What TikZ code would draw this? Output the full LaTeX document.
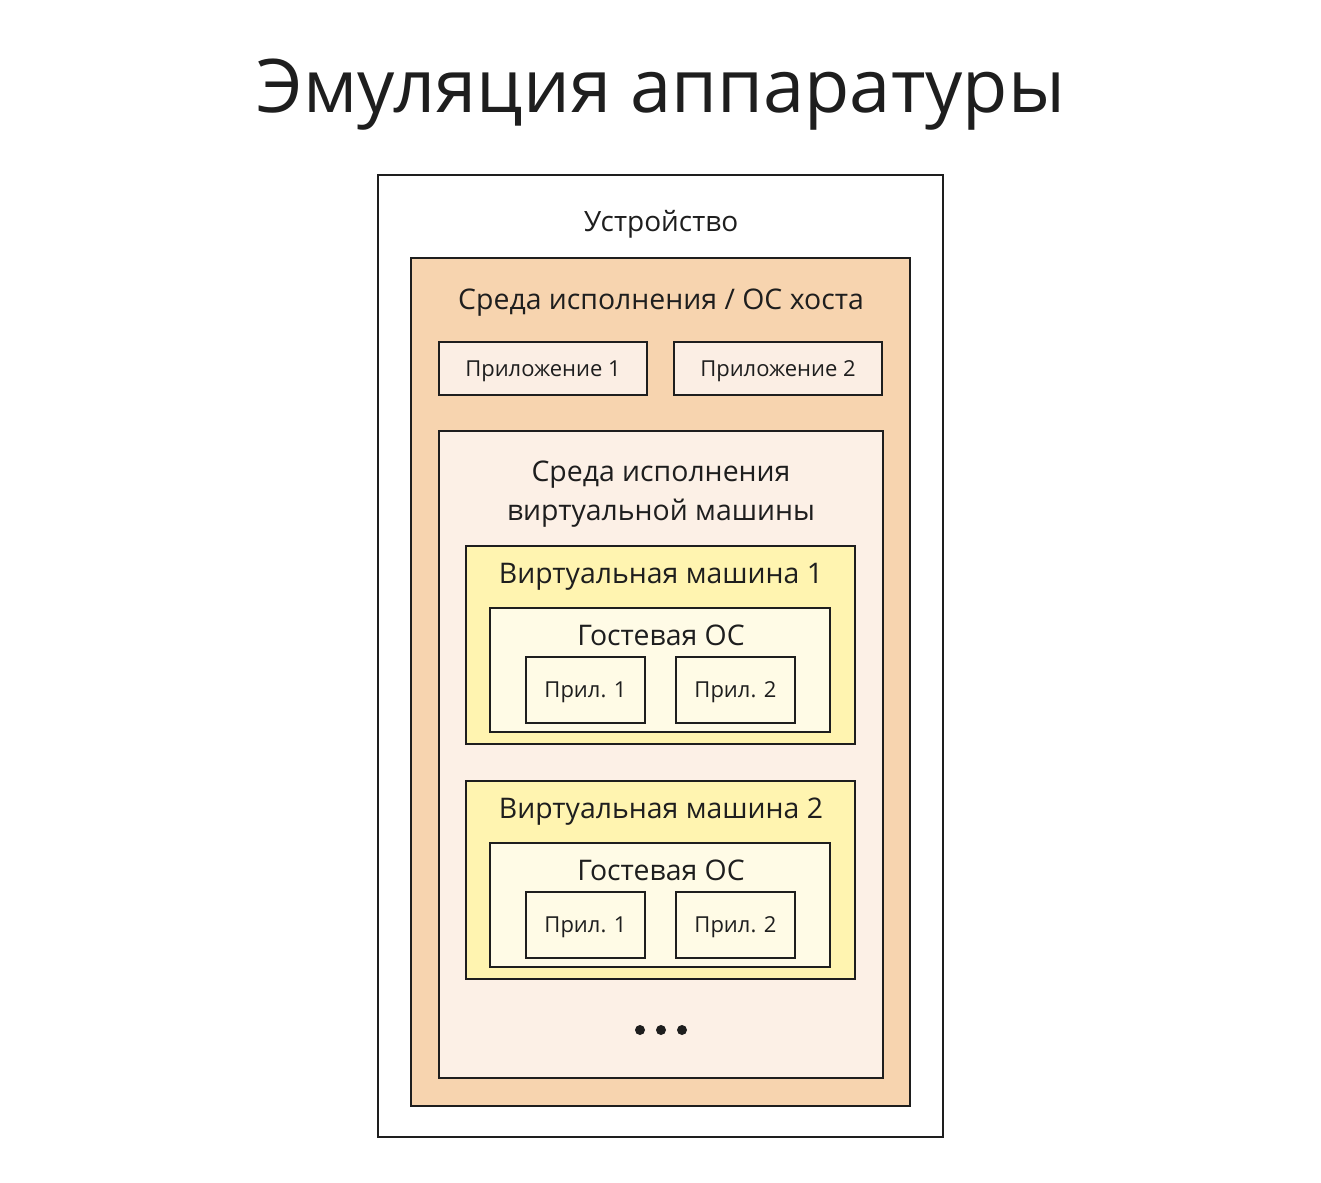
\documentclass[tikz,border=0pt]{standalone}
\usepackage{fontspec}
\setmainfont{Open Sans}
\usetikzlibrary{positioning}
\definecolor{hostfill}{HTML}{F7D4AF}
\definecolor{envfill}{HTML}{FCF0E6}
\definecolor{appfill}{HTML}{FBEEE4}
\definecolor{vmfill}{HTML}{FFF4B0}
\definecolor{guestfill}{HTML}{FFFBE6}
\definecolor{inkc}{HTML}{1E1E1E}
\begin{document}
\begin{tikzpicture}[x=1pt,y=-1pt]
\tikzstyle{every path}=[line width=2.6pt,draw=inkc]
\tikzstyle{frame}=[draw=inkc,line width=2.6pt,inner sep=0pt,text depth=0pt]
\tikzstyle{lbl}=[text=inkc,font=\fontsize{28.4}{36}\selectfont,align=center]
\tikzstyle{small}=[text=inkc,font=\fontsize{22}{26}\selectfont]

\path[draw=none,use as bounding box] (0,0) rectangle (1321,1182);

%% Title
\node[text=inkc,font=\fontsize{74}{88}\selectfont] (title) at (661,95) {Эмуляция аппаратуры};

%% Device and host
\draw[fill=white] (378,175) rectangle (943,1137);
\node[lbl,font=\fontsize{28}{34}\selectfont] (device) at (661,224) {Устройство};
\draw[fill=hostfill] (411,258) rectangle (910,1106);
\node[lbl] (host) at (661,303) {Среда исполнения / ОС хоста};

%% Host applications
\node[frame,fill=appfill,small,minimum width=208pt,minimum height=53pt] (app1) at (543,368.5) {Приложение 1};
\node[frame,fill=appfill,small,minimum width=208pt,minimum height=53pt] (app2) at (778,368.5) {Приложение 2};

%% VM runtime
\draw[fill=envfill] (439,431) rectangle (883,1078);
\node[lbl,font=\fontsize{28.4}{39}\selectfont] (vmenv) at (661,494) {Среда исполнения\\виртуальной машины};

%% Virtual machines
\foreach \i/\y in {1/0,2/235}{
  \begin{scope}[yshift=-\y pt]
  \draw[fill=vmfill] (466,546) rectangle (855,744);
  \node[lbl] (vm\i) at (661,577) {Виртуальная машина \i};
  \draw[fill=guestfill] (490,608) rectangle (830,732);
  \node[lbl] (guest\i) at (661,635) {Гостевая ОС};
  \node[frame,fill=guestfill,small,minimum width=119pt,minimum height=66pt] (vm\i-p1) at (585.5,690) {Прил. 1};
  \node[frame,fill=guestfill,small,minimum width=119pt,minimum height=66pt] (vm\i-p2) at (735.5,690) {Прил. 2};
  \end{scope}
}

%% More
\foreach \x in {640,661,682}
  \fill[inkc,draw=none] (\x,1030) circle (5pt);
\end{tikzpicture}
\end{document}
